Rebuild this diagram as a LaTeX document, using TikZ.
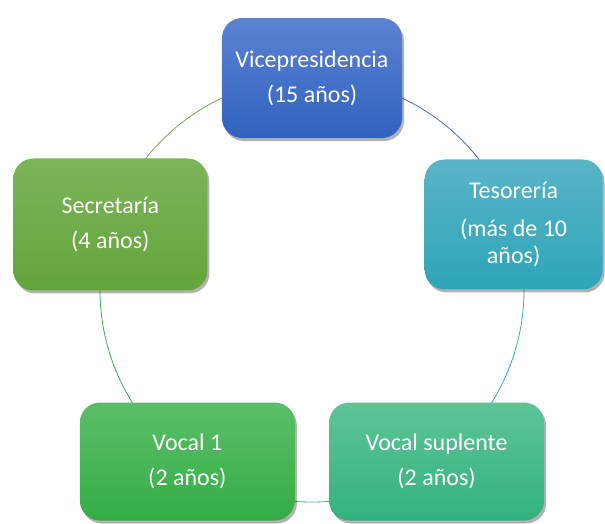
\documentclass[tikz,border=0pt]{standalone}
\usepackage{fontspec}
\setmainfont{Carlito}
\usepackage{xcolor}
\usetikzlibrary{shadows,backgrounds}

\definecolor{vicetop}{HTML}{5B82D3}
\definecolor{vicebot}{HTML}{3163BF}
\definecolor{viceline}{HTML}{4472C4}
\definecolor{testop}{HTML}{5AB4C8}
\definecolor{tesbot}{HTML}{2DA5B9}
\definecolor{tesline}{HTML}{36ABC2}
\definecolor{sectop}{HTML}{7DB45A}
\definecolor{secbot}{HTML}{62A53A}
\definecolor{secline}{HTML}{6FAE4A}
\definecolor{vonetop}{HTML}{5CBE68}
\definecolor{vonebot}{HTML}{34AD46}
\definecolor{voneline}{HTML}{3DB052}
\definecolor{vstop}{HTML}{5EC496}
\definecolor{vsbot}{HTML}{33B27E}
\definecolor{vsline}{HTML}{3DBB88}

\begin{document}
\begin{tikzpicture}[x=1pt, y=1pt,
    cargo/.style={rounded corners=20pt, inner sep=0pt, align=center,
      text=white, font=\fontsize{24}{27}\selectfont,
      drop shadow={shadow xshift=2pt, shadow yshift=-3pt,
        opacity=0.3, fill=black}},
    ciclo/.style={line width=0.8pt}]
    \useasboundingbox (-312,-233) rectangle (293,290);

    \node[cargo, top color=vicetop, bottom color=vicebot,
      minimum width=180pt, minimum height=120pt] (vice) at (90:212)
      {Vicepresidencia\\[8pt](15 años)};
    \node[cargo, top color=testop, bottom color=tesbot,
      minimum width=178pt, minimum height=130pt] (tes) at (18:212)
      {Tesorería\\[11pt](más de 10\\años)};
    \node[cargo, top color=vstop, bottom color=vsbot,
      minimum width=215pt, minimum height=118pt] (vsup) at (-54:212)
      {Vocal suplente\\[8pt](2 años)};
    \node[cargo, top color=vonetop, bottom color=vonebot,
      minimum width=215pt, minimum height=118pt] (vone) at (-126:212)
      {Vocal 1\\[8pt](2 años)};
    \node[cargo, top color=sectop, bottom color=secbot,
      minimum width=194pt, minimum height=132pt] (secr) at (162:212)
      {Secretaría\\[8pt](4 años)};

    \begin{scope}[on background layer]
      \draw[ciclo, viceline] (vice.center) arc[start angle=90, end angle=18, radius=212];
      \draw[ciclo, tesline] (tes.center) arc[start angle=18, end angle=-54, radius=212];
      \draw[ciclo, vsline] (vsup.center) arc[start angle=-54, end angle=-126, radius=212];
      \draw[ciclo, voneline] (vone.center) arc[start angle=-126, end angle=-198, radius=212];
      \draw[ciclo, secline] (secr.center) arc[start angle=162, end angle=90, radius=212];
    \end{scope}
  \end{tikzpicture}
\end{document}
